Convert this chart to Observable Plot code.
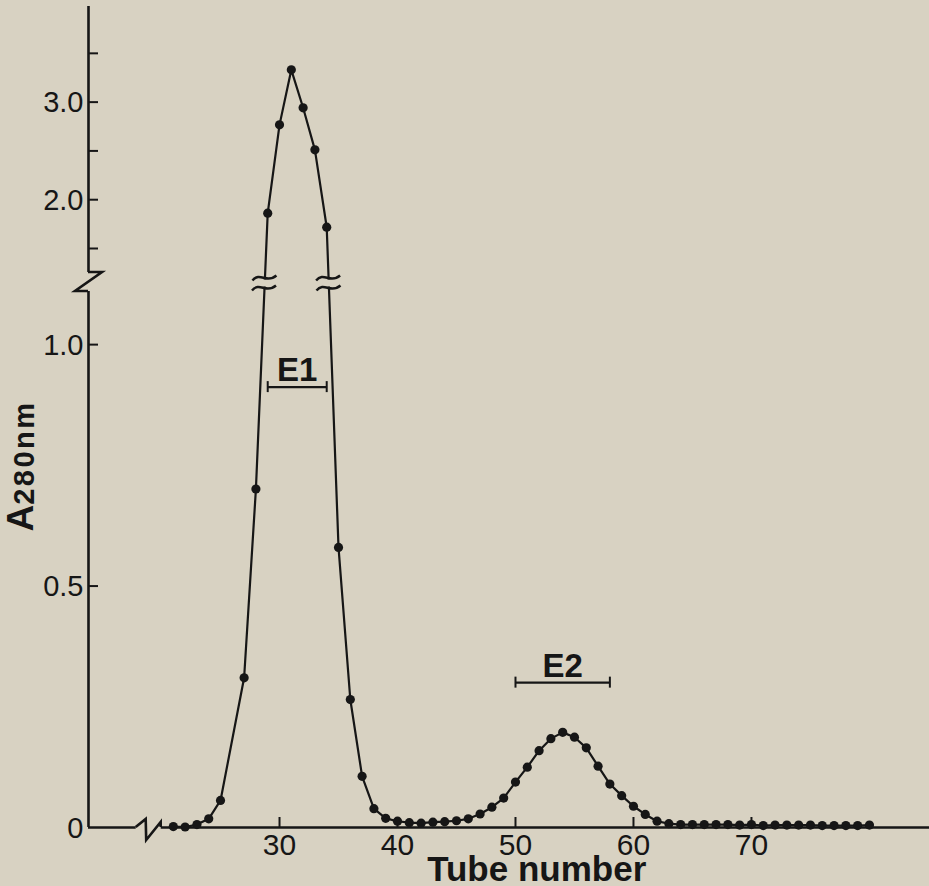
<!DOCTYPE html>
<html>
<head>
<meta charset="utf-8">
<script src="https://cdn.jsdelivr.net/npm/d3@7"></script>
<script src="https://cdn.jsdelivr.net/npm/@observablehq/plot@0.6"></script>
<style>
  html, body { margin: 0; padding: 0; background: #d8d2c2; }
</style>
</head>
<body>
<div id="chart"></div>
<script>
// ---- data ----
const tubes = [21,22,23,24,25,27,28,29,30,31,32,33,34,35,36,37,38,39,40,
  41,42,43,44,45,46,47,48,49,50,51,52,53,54,55,56,57,58,59,60,61,62,63,
  64,65,66,67,68,69,70,71,72,73,74,75,76,77,78,79,80];
const absorbance = [0.002,0.001,0.006,0.018,0.056,0.310,0.701,1.862,2.767,3.331,2.942,2.511,1.718,0.580,0.265,0.106,0.039,0.019,0.013,
  0.010,0.009,0.011,0.012,0.014,0.018,0.028,0.042,0.061,0.094,0.125,0.159,0.184,0.197,0.187,0.165,0.127,0.090,0.066,0.044,0.027,0.013,0.008,
  0.006,0.006,0.006,0.006,0.006,0.005,0.006,0.004,0.005,0.005,0.005,0.005,0.004,0.004,0.004,0.004,0.005];

const xTicks = [30, 40, 50, 60, 70];
const yTicks = [0.5, 1.0, 1.5, 2.0, 2.5, 3.0, 3.5];
const yLabelValues = [0, 0.5, 1.0, 2.0, 3.0];
const yLabelTexts = ["0", "0.5", "1.0", "2.0", "3.0"];

const fractionNames = ["E1", "E2"];
const fractionStart = [29, 50];
const fractionEnd = [34, 58];
const fractionLevel = [0.912, 0.30];

// ---- layout ----
const W = 929, H = 886;
const ink = "#161616", bg = "#d8d2c2";
const font = "'Liberation Sans', Arial, Helvetica, sans-serif";
const xDomain = [13.81, 85.09];
const xRange = [88, 929];
// broken y axis: lower segment 0..1.11, upper segment 1.254..3.98
const yDomain = [0, 1.11, 1.254, 3.98];
const yRange = [827, 291, 272, 6];
const xBreakAt = 18.7;  // where the x-axis break is drawn

const data = tubes.map((t, i) => ({tube: t, value: absorbance[i]}));
const fractions = fractionNames.map((n, i) => ({name: n, start: fractionStart[i], end: fractionEnd[i], level: fractionLevel[i], mid: (fractionStart[i] + fractionEnd[i]) / 2}));

const px = d3.scaleLinear(xDomain, xRange);
const py = d3.scaleLinear(yDomain, yRange);
const tickLenX = px.invert(xRange[0] + 10) - xDomain[0];   // 10 px in tube units
const tickLenY = py.invert(py(0) - 10);                      // 10 px in value units
const capHalf = py.invert(py(0) - 5.5);

const xBreakL = px.invert(px(xBreakAt) - 10);
const xBreakR = px.invert(px(xBreakAt) + 15);

const chart = Plot.plot({
  width: W, height: H,
  marginLeft: 0, marginRight: 0, marginTop: 0, marginBottom: 0,
  style: {background: bg, fontFamily: font, color: ink, overflow: "visible"},
  x: {type: "linear", domain: xDomain, range: xRange, axis: null},
  y: {type: "linear", domain: yDomain, range: yRange, axis: null},
  marks: [
    // y axis (two segments)
    Plot.ruleX([xDomain[0]], {y1: 0, y2: yDomain[1], stroke: ink, strokeWidth: 2.6}),
    Plot.ruleX([xDomain[0]], {y1: yDomain[2], y2: yDomain[3], stroke: ink, strokeWidth: 2.6}),
    // x axis (two segments)
    Plot.ruleY([0], {x1: xDomain[0], x2: xBreakL, stroke: ink, strokeWidth: 2.6}),
    Plot.ruleY([0], {x1: xBreakR, x2: xDomain[1], stroke: ink, strokeWidth: 2.6}),
    // y ticks (inward)
    Plot.ruleY(yTicks, {y: d => d, x1: xDomain[0], x2: xDomain[0] + tickLenX, stroke: ink, strokeWidth: 2}),
    // x ticks (inward)
    Plot.ruleX(xTicks, {x: d => d, y1: 0, y2: tickLenY, stroke: ink, strokeWidth: 2}),
    // y tick labels
    Plot.text(yLabelValues, {x: xDomain[0], y: d => d, text: (d, i) => yLabelTexts[i], dx: -5, dy: 1,
      textAnchor: "end", lineAnchor: "middle", fontSize: 29, fill: ink}),
    // x tick labels
    Plot.text(xTicks, {x: d => d, y: 0, text: d => String(d), dy: 27, lineAnchor: "bottom", fontSize: 30, fill: ink}),
    // x axis title
    Plot.text(["Tube number"], {x: 51.8, y: 0, text: d => d, dy: 53, lineAnchor: "bottom", fontSize: 35, fontWeight: "bold", fill: ink}),
    // elution profile
    Plot.line(data, {x: "tube", y: "value", stroke: ink, strokeWidth: 2.2}),
    Plot.dot(data, {x: "tube", y: "value", r: 4.6, fill: ink, stroke: "none"}),
    // fraction brackets
    Plot.ruleY(fractions, {y: "level", x1: "start", x2: "end", stroke: ink, strokeWidth: 2.4}),
    Plot.ruleX(fractions, {x: "start", y1: d => d.level - capHalf, y2: d => d.level + capHalf, stroke: ink, strokeWidth: 2}),
    Plot.ruleX(fractions, {x: "end", y1: d => d.level - capHalf, y2: d => d.level + capHalf, stroke: ink, strokeWidth: 2}),
    Plot.text(fractions, {x: "mid", y: "level", text: "name", dy: -6, lineAnchor: "bottom", fontSize: 33, fontWeight: "bold", fill: ink})
  ]
});

document.getElementById("chart").appendChild(chart);

// ---- decorations drawn with the chart's own scales ----
const sx = chart.scale("x"), sy = chart.scale("y");
const X = v => sx.apply(v), Y = v => sy.apply(v);
const svg = d3.select(chart);
const deco = svg.append("g").attr("fill", "none").attr("stroke", ink).attr("stroke-width", 2.6)
  .attr("stroke-linejoin", "miter").attr("stroke-linecap", "butt");

// y-axis break zigzag
const ax = X(xDomain[0]);
const yTopGap = Y(yDomain[2]), yBotGap = Y(yDomain[1]);
deco.append("path").attr("d", `M${ax},${yTopGap}H${ax + 14}L${ax - 13},${yBotGap}H${ax}`);

// x-axis break zigzag
const bx = X(xBreakL), ex = X(xBreakR), y0 = Y(0);
deco.append("path").attr("d", `M${bx},${y0}L${bx + 10},${y0 - 8}L${bx + 10.5},${y0 + 13}L${ex},${y0 - 5}V${y0}`);

// breaks on the profile line where it crosses the axis gap
const brk = (yDomain[1] + yDomain[2]) / 2;
const yHiMark = yTopGap + 6, yLoMark = yBotGap - 3;
for (let i = 0; i < data.length - 1; i++) {
  const a = data[i], b = data[i + 1];
  if ((a.value - brk) * (b.value - brk) < 0) {
    const ax1 = X(a.tube), ay1 = Y(a.value), bx1 = X(b.tube), by1 = Y(b.value);
    const xAt = yy => ax1 + (bx1 - ax1) * (yy - ay1) / (by1 - ay1);
    const xm = xAt((yHiMark + yLoMark) / 2);
    svg.append("rect").attr("x", xm - 6).attr("y", yHiMark + 1.5).attr("width", 12).attr("height", yLoMark - yHiMark - 3)
      .attr("fill", bg).attr("stroke", "none");
    for (const yy of [yHiMark, yLoMark]) {
      const cx = xAt(yy);
      svg.append("path").attr("fill", "none").attr("stroke", ink).attr("stroke-width", 2.4)
        .attr("d", `M${cx - 12},${yy + 2.5} C${cx - 8},${yy - 2.5} ${cx - 4},${yy - 1} ${cx},${yy} S${cx + 8},${yy + 1} ${cx + 12},${yy - 2.5}`);
    }
  }
}

// y axis title  A280nm
const yl = svg.append("text").attr("transform", "translate(33,466) rotate(-90)")
  .attr("text-anchor", "middle").attr("font-weight", "bold").attr("fill", ink).attr("font-family", font);
yl.append("tspan").attr("font-size", 37).text("A");
yl.append("tspan").attr("font-size", 29).attr("letter-spacing", 2.5).attr("dy", 1).text("280nm");
</script>
</body>
</html>
